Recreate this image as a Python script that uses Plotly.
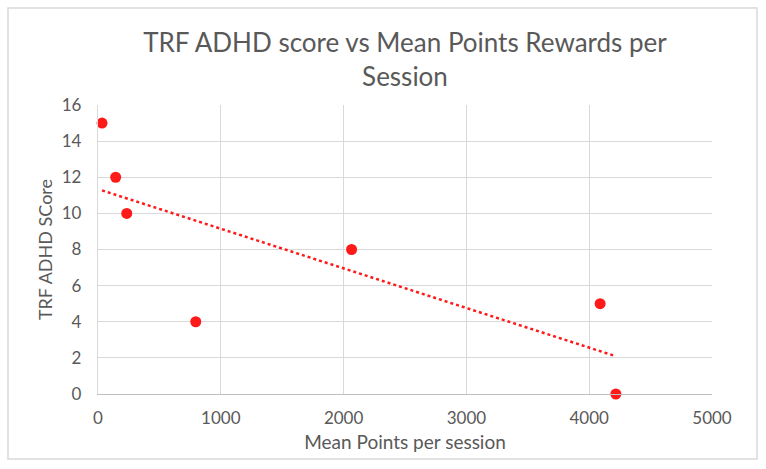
import numpy as np
import plotly.graph_objects as go

# Data
mean_points = [33, 144, 234, 796, 2065, 4089, 4217]
trf_adhd_score = [15, 12, 10, 4, 8, 5, 0]
x_ticks = [0, 1000, 2000, 3000, 4000, 5000]
y_ticks = [0, 2, 4, 6, 8, 10, 12, 14, 16]

title_text = "TRF ADHD score vs Mean Points Rewards per<br>Session"
x_title = "Mean Points per session"
y_title = "TRF ADHD SCore"

# Linear trendline fitted from the data
slope, intercept = np.polyfit(mean_points, trf_adhd_score, 1)
trend_x = [min(mean_points), max(mean_points)]
trend_y = [slope * v + intercept for v in trend_x]

W, H = 766, 469
L, R, T, B = 98, 54, 105, 75
FONT = "Lato"
GREY = "#595959"

fig = go.Figure()
fig.add_trace(go.Scatter(
    x=trend_x, y=trend_y, mode="lines",
    line=dict(color="#ff1a1a", width=2.5, dash="dot"),
    showlegend=False, hoverinfo="skip"))
fig.add_trace(go.Scatter(
    x=mean_points, y=trf_adhd_score, mode="markers",
    marker=dict(color="#ff1a1a", size=11),
    cliponaxis=False, showlegend=False))

pw = W - L - R
ph = H - T - B
def px(xp):
    return (xp - L) / pw
def py(yp):
    return (H - B - yp) / ph

fig.add_shape(type="rect", xref="paper", yref="paper",
              x0=px(8), x1=px(757), y0=py(459), y1=py(8),
              line=dict(color="#d9d9d9", width=1.5), layer="below")

fig.update_layout(
    width=W, height=H,
    margin=dict(l=L, r=R, t=T, b=B),
    paper_bgcolor="white", plot_bgcolor="white",
    font=dict(family=FONT, color=GREY),
    title=dict(text=title_text, x=0.5, xref="paper", xanchor="center",
               y=1 - 52 / H, yanchor="top",
               font=dict(family=FONT, size=26, color=GREY)),
    xaxis=dict(range=[0, 5000], tickvals=x_ticks, showgrid=True,
               gridcolor="#d9d9d9", gridwidth=1.3, zeroline=False,
               showline=True, linecolor="#bfbfbf", linewidth=1.3,
               tickfont=dict(family=FONT, size=17, color=GREY),
               ticklabelstandoff=8,
               title=dict(text=x_title, standoff=9,
                          font=dict(family=FONT, size=19, color=GREY))),
    yaxis=dict(range=[0, 16], tickvals=y_ticks, showgrid=True,
               gridcolor="#d9d9d9", gridwidth=1.3, zeroline=False,
               showline=True, linecolor="#d9d9d9", linewidth=1.3,
               tickfont=dict(family=FONT, size=17, color=GREY),
               ticklabelstandoff=12,
               title=dict(text=y_title, standoff=4,
                          font=dict(family=FONT, size=18, color=GREY))),
)

fig.write_html("out.html", config={"displayModeBar": False},
               post_script="document.body.style.margin='0';")
